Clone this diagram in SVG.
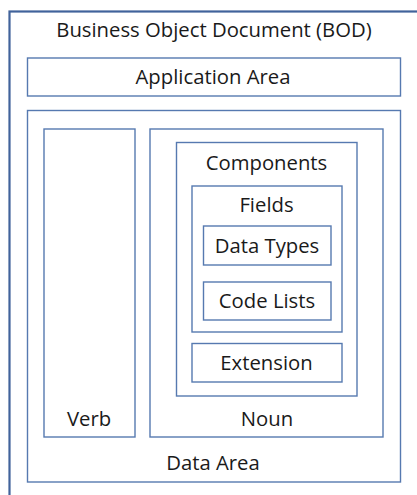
<svg xmlns="http://www.w3.org/2000/svg" width="417" height="495" viewBox="0 0 417 495">
<style>
.box{fill:none;stroke:#5679b0;stroke-width:1.4}
.outer{fill:none;stroke:#41639b;stroke-width:2.2}
text{font-family:"Open Sans","Noto Sans",sans-serif;font-size:20.3px;fill:#1a1a1a;text-anchor:middle}
</style>
<rect width="417" height="495" fill="#ffffff"/>
<g id="bod">
<rect class="outer" x="9.5" y="11.5" width="430" height="500"/>
<text x="214" y="37">Business Object Document (BOD)</text>
</g>
<g id="application-area">
<rect class="box" x="27.5" y="58" width="373" height="38"/>
<text x="213" y="84">Application Area</text>
</g>
<g id="data-area">
<rect class="box" x="27.5" y="110.5" width="373" height="371.5"/>
<text x="213" y="470">Data Area</text>
</g>
<g id="verb">
<rect class="box" x="44" y="129" width="91" height="308"/>
<text x="89" y="426">Verb</text>
</g>
<g id="noun">
<rect class="box" x="150" y="129" width="233" height="308"/>
<text x="267" y="426">Noun</text>
</g>
<g id="components">
<rect class="box" x="176.5" y="142.5" width="180.5" height="253.5"/>
<text x="266.5" y="170">Components</text>
</g>
<g id="fields">
<rect class="box" x="192" y="186" width="150" height="146"/>
<text x="266.5" y="212">Fields</text>
</g>
<g id="data-types">
<rect class="box" x="203.5" y="226" width="127.5" height="39"/>
<text x="267" y="253">Data Types</text>
</g>
<g id="code-lists">
<rect class="box" x="203.5" y="282" width="127.5" height="38"/>
<text x="267" y="308">Code Lists</text>
</g>
<g id="extension">
<rect class="box" x="192" y="343.5" width="150" height="38.5"/>
<text x="266.5" y="370">Extension</text>
</g>
<g id="connectors"></g>
</svg>
